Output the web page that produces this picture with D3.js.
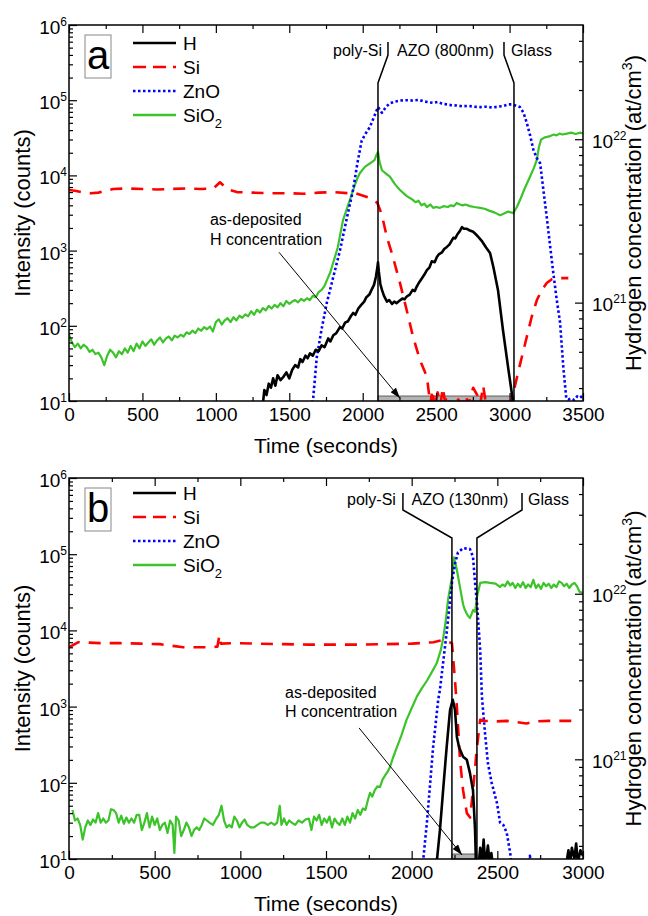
<!DOCTYPE html>
<html>
<head>
<meta charset="utf-8">
<script src="https://cdn.jsdelivr.net/npm/d3@7"></script>
<style>
  body { margin: 0; background: #fff; }
  svg { display: block; }
</style>
</head>
<body>
<div id="chart"></div>
<script>
// ---- data: [time (s), intensity (counts)] ----

// panel a: AZO 800 nm
const hA = [[1320,9],[1330,14],[1345,12],[1360,17],[1375,15],[1390,20],[1405,16],[1420,22],[1440,19],[1460,21],[1480,24],[1500,20],[1520,26],[1540,30],[1560,28],[1575,36],[1590,33],[1610,40],[1625,37],[1641,43],[1660,40],[1680,48],[1700,46],[1720,55],[1740,52],[1765,68],[1780,62],[1800,75],[1820,80],[1845,96],[1860,92],[1880,110],[1900,115],[1920,135],[1935,148],[1950,140],[1970,170],[1990,190],[2010,210],[2025,240],[2045,260],[2060,300],[2077,350],[2090,450],[2100,600],[2104,700],[2110,520],[2120,360],[2131,300],[2145,250],[2165,210],[2180,220],[2200,195],[2215,210],[2230,200],[2250,215],[2270,230],[2285,225],[2300,245],[2320,260],[2340,300],[2355,290],[2367,330],[2385,380],[2400,420],[2420,480],[2437,550],[2455,600],[2470,720],[2490,700],[2505,820],[2520,900],[2540,950],[2555,1050],[2573,1120],[2590,1200],[2605,1350],[2617,1480],[2630,1450],[2645,1650],[2660,1800],[2676,2050],[2690,1950],[2710,1950],[2730,1850],[2752,1780],[2770,1650],[2790,1500],[2810,1350],[2820,1260],[2840,1100],[2867,930],[2890,600],[2921,300],[2955,88],[2990,28],[3023,10],[3030,8]];

const siA = [[0,6400],[50,6200],[100,5900],[150,5800],[200,5900],[300,6600],[400,6700],[500,6600],[600,6500],[700,6600],[800,6700],[900,6600],[983,6700],[1028,8100],[1080,6500],[1143,6000],[1250,5900],[1350,5800],[1500,5800],[1600,5700],[1700,5900],[1800,6000],[1900,5800],[1950,5800],[2050,5000],[2100,4300],[2130,3000],[2165,1500],[2200,900],[2254,370],[2300,160],[2343,71],[2390,35],[2437,21],[2460,9],[2475,14],[2490,8],[2510,13],[2530,9],[2545,15],[2560,10],[2580,12],[2600,8],[2640,11],[2680,9],[2700,12],[2720,9],[2752,15],[2780,12],[2800,9],[2820,16],[2840,9],[2880,8],[3000,8],[3030,14],[3070,30],[3117,71],[3150,130],[3186,220],[3220,300],[3253,370],[3290,420],[3320,430],[3400,430]];

const znoA = [[1640,7],[1663,11],[1687,38],[1720,90],[1755,200],[1800,450],[1845,1000],[1890,2600],[1935,6500],[1965,15000],[1993,29000],[2020,36000],[2049,44000],[2080,62000],[2104,81000],[2131,68000],[2160,82000],[2185,91000],[2220,96000],[2260,99000],[2300,100000],[2340,99000],[2380,101000],[2420,96000],[2450,94000],[2480,92000],[2510,95000],[2540,90000],[2570,88000],[2600,86000],[2640,85000],[2680,83000],[2720,84000],[2760,82000],[2800,81000],[2840,82000],[2880,80000],[2920,82000],[2960,84000],[2990,88000],[3016,88000],[3040,85000],[3071,81000],[3095,68000],[3117,50000],[3140,34000],[3162,22000],[3185,17000],[3208,14500],[3230,6500],[3253,2800],[3275,1200],[3298,500],[3320,230],[3344,110],[3366,28],[3386,11],[3400,10.5],[3420,10.8],[3440,10.3],[3460,11.5],[3480,11],[3500,12]];

const sio2A = [[0,76],[20,60],[40,52],[60,58],[80,50],[100,56],[120,52],[140,45],[160,48],[180,42],[200,44],[220,38],[240,30],[260,40],[280,48],[300,44],[320,38],[340,46],[360,42],[380,50],[400,44],[420,54],[440,46],[460,58],[480,50],[500,62],[520,54],[540,60],[560,66],[580,56],[600,64],[620,70],[640,60],[660,68],[680,72],[700,64],[720,74],[740,70],[760,76],[780,72],[800,82],[820,78],[840,86],[860,80],[880,92],[900,86],[920,96],[940,90],[960,98],[980,84],[1000,112],[1020,122],[1040,104],[1060,118],[1080,126],[1100,112],[1120,130],[1140,118],[1160,136],[1180,128],[1200,142],[1220,134],[1240,156],[1260,140],[1280,164],[1300,150],[1320,172],[1340,160],[1360,184],[1380,170],[1400,190],[1420,176],[1440,200],[1460,182],[1480,214],[1500,196],[1520,210],[1540,220],[1560,205],[1580,228],[1600,215],[1620,232],[1640,220],[1660,250],[1680,240],[1700,280],[1720,300],[1740,340],[1760,420],[1780,520],[1800,700],[1830,1100],[1866,2550],[1900,4000],[1935,6400],[1960,8800],[1980,10700],[2015,13000],[2050,14500],[2080,16000],[2095,19000],[2104,20500],[2115,15000],[2131,11700],[2160,10500],[2185,9600],[2220,7600],[2254,6400],[2300,5300],[2343,4700],[2360,4400],[2380,4600],[2400,4000],[2420,4200],[2437,3800],[2460,4100],[2480,3700],[2500,3800],[2526,3700],[2550,3900],[2580,3800],[2600,4000],[2620,3900],[2640,4300],[2662,4100],[2680,4000],[2700,4100],[2730,3900],[2760,3800],[2799,3700],[2830,3600],[2860,3400],[2900,3200],[2935,2950],[2960,3100],[2990,3300],[3025,3150],[3050,3800],[3071,4700],[3100,6500],[3139,9600],[3165,12500],[3185,16000],[3200,24000],[3215,30000],[3240,32000],[3270,33000],[3300,35000],[3320,34000],[3340,36000],[3360,35000],[3390,36000],[3420,37000],[3450,35500],[3480,37000],[3500,36000]];

// panel b: AZO 130 nm
const hB = [[2146,9],[2165,24],[2185,88],[2204,290],[2224,900],[2240,1230],[2253,900],[2264,400],[2277,290],[2300,220],[2322,200],[2340,135],[2358,80],[2370,24],[2375,9],[2390,8],[2400,14],[2410,9],[2420,18],[2430,8],[2445,15],[2455,9],[2465,12],[2475,8],[2900,8],[2915,13],[2925,9],[2935,14],[2950,10],[2960,16],[2970,9],[2985,13],[3000,11]];

const siB = [[0,6000],[55,7000],[180,6800],[300,6800],[420,6700],[530,6600],[667,6000],[805,6000],[866,6100],[878,8600],[886,6700],[960,6800],[1100,6700],[1250,6600],[1400,6500],[1550,6500],[1700,6500],[1850,6600],[2000,6700],[2127,7000],[2185,7500],[2235,6800],[2253,2200],[2264,980],[2282,200],[2300,80],[2322,40],[2341,35],[2358,80],[2381,290],[2400,670],[2428,650],[2500,640],[2555,650],[2670,600],[2720,640],[2800,650],[2943,650]];

const znoB = [[2066,9],[2090,32],[2125,290],[2155,1230],[2165,1660],[2204,9300],[2235,42000],[2253,76000],[2270,105000],[2300,120000],[2340,117000],[2358,92000],[2370,42000],[2381,23000],[2400,5500],[2410,1350],[2428,450],[2445,180],[2467,100],[2498,54],[2516,30],[2535,28],[2555,22],[2575,12],[2585,8],[2680,8],[2690,11],[2700,8],[2900,8],[2920,11],[2940,9],[2960,11],[2980,8]];

const sio2B = [[20,44],[35,32],[50,34],[65,28],[80,18],[95,26],[110,32],[125,28],[140,33],[155,30],[170,40],[185,30],[200,34],[215,30],[230,32],[245,45],[260,44],[275,40],[290,30],[305,37],[320,29],[335,35],[350,30],[365,34],[380,30],[395,38],[410,38],[425,24],[440,30],[455,40],[470,26],[485,36],[500,28],[515,34],[530,24],[545,28],[560,30],[575,22],[590,32],[605,28],[615,12],[625,36],[640,32],[655,20],[670,24],[685,30],[700,26],[715,20],[730,24],[745,26],[760,24],[775,28],[790,34],[805,32],[820,30],[840,28],[860,34],[875,38],[890,50],[905,32],[920,26],[935,28],[950,26],[965,36],[980,32],[995,26],[1010,30],[1025,33],[1040,28],[1060,26],[1080,26],[1100,28],[1120,30],[1140,30],[1160,28],[1180,30],[1200,28],[1215,30],[1230,50],[1240,28],[1255,34],[1270,28],[1285,32],[1300,30],[1320,28],[1340,32],[1360,30],[1380,33],[1400,34],[1415,24],[1430,36],[1445,32],[1460,38],[1475,28],[1490,34],[1505,30],[1520,36],[1535,26],[1550,34],[1565,30],[1580,28],[1595,34],[1610,28],[1625,36],[1640,30],[1655,40],[1670,34],[1685,44],[1700,38],[1715,46],[1730,44],[1745,60],[1757,74],[1770,66],[1785,80],[1800,90],[1815,88],[1830,110],[1845,125],[1860,140],[1873,160],[1890,210],[1913,290],[1940,420],[1970,670],[2000,950],[2030,1350],[2060,1750],[2090,2200],[2120,2900],[2146,3700],[2170,5500],[2185,8100],[2200,14000],[2212,25000],[2235,50000],[2247,91000],[2264,62000],[2282,37000],[2300,22000],[2311,18500],[2325,16000],[2340,14500],[2350,16500],[2358,18500],[2370,17500],[2381,27500],[2400,42000],[2430,43000],[2457,42000],[2490,41000],[2516,37000],[2530,40000],[2545,38000],[2560,44000],[2575,39000],[2590,42000],[2605,36000],[2620,41000],[2635,37000],[2650,43000],[2665,36000],[2680,40000],[2695,37000],[2710,46000],[2725,36000],[2740,40000],[2755,35000],[2770,42000],[2785,38000],[2800,41000],[2815,36000],[2830,40000],[2845,37000],[2860,44000],[2875,42000],[2890,38000],[2905,41000],[2920,36000],[2935,40000],[2950,42000],[2965,38000],[2980,32000],[3000,31000]];

// ---- axes / labels ----
const xTicksA = [0, 500, 1000, 1500, 2000, 2500, 3000, 3500];
const xTicksB = [0, 500, 1000, 1500, 2000, 2500, 3000];
const yTicks = [1e1, 1e2, 1e3, 1e4, 1e5, 1e6];
const y2Ticks = [1e21, 1e22];
const legendNames = ["H", "Si", "ZnO", "SiO2"];
const layerNames = ["poly-Si", "Glass"];

const FONT = '"Liberation Sans", Arial, Helvetica, sans-serif';
const plotLeft = 69, plotW = 514;

const styles = {
  H:    { color: "#000000", width: 2.6, dash: null },
  Si:   { color: "#ff0000", width: 2.6, dash: "12,9" },
  ZnO:  { color: "#0000ff", width: 2.6, dash: "2.5,2.5" },
  SiO2: { color: "#3cc32a", width: 2.2, dash: null }
};

const svg = d3.select("#chart").append("svg")
  .attr("width", 648).attr("height", 916)
  .style("font-family", FONT);

const defs = svg.append("defs");
defs.append("marker")
  .attr("id", "arrow")
  .attr("viewBox", "0 0 12 8")
  .attr("refX", 12).attr("refY", 4)
  .attr("markerWidth", 12).attr("markerHeight", 7)
  .attr("markerUnits", "userSpaceOnUse")
  .attr("orient", "auto")
  .append("path").attr("d", "M0,0 L12,4 L0,8 z").attr("fill", "#000");

function styleAxis(sel) {
  sel.attr("font-family", FONT).attr("font-size", 19);
  sel.select(".domain").remove();
  sel.selectAll(".tick line").attr("stroke", "#000").attr("stroke-width", 1.2);
  sel.selectAll(".tick text").attr("fill", "#000");
}

function powerLabels(sel, dy) {
  sel.selectAll(".tick text").each(function(d) {
    const t = d3.select(this).attr("dy", dy).text("10");
    t.append("tspan").attr("dy", -8).attr("font-size", 12).text(Math.round(Math.log10(d)));
  });
}

function drawPanel(cfg) {
  const height = cfg.bottom - cfg.top;
  const g = svg.append("g").attr("transform", `translate(${plotLeft},${cfg.top})`);

  const x = d3.scaleLinear().domain([0, cfg.tMax]).range([0, plotW]);
  const y = d3.scaleLog().domain([1e1, 1e6]).range([height, 0]);
  const y2 = d3.scaleLog().domain([2.5e20, 5e22]).range([height, 0]);

  defs.append("clipPath").attr("id", "clip-" + cfg.id)
    .append("rect").attr("width", plotW).attr("height", height);

  // as-deposited H bar
  g.append("rect")
    .attr("x", x(cfg.bar[0]))
    .attr("width", x(cfg.bar[1]) - x(cfg.bar[0]))
    .attr("y", height - 5)
    .attr("height", 5)
    .attr("fill", "#b4b4b4")
    .attr("stroke", "#444")
    .attr("stroke-width", 0.8);

  // series
  const line = d3.line().x(d => x(d[0])).y(d => y(d[1]));
  const plot = g.append("g").attr("clip-path", `url(#clip-${cfg.id})`);
  ["SiO2", "ZnO", "Si", "H"].forEach(name => {
    const s = styles[name];
    plot.append("path")
      .datum(cfg.series[name])
      .attr("fill", "none")
      .attr("stroke", s.color)
      .attr("stroke-width", s.width)
      .attr("stroke-linejoin", "round")
      .attr("stroke-dasharray", s.dash)
      .attr("d", line);
  });

  // layer boundary brackets
  cfg.brackets.forEach(b => {
    const pts = [[x(b[0]), cfg.bracketY[0]], [x(b[0]), cfg.bracketY[1]],
                 [x(b[1]), cfg.bracketY[2]], [x(b[1]), height]];
    g.append("path")
      .attr("d", d3.line()(pts))
      .attr("fill", "none")
      .attr("stroke", "#000")
      .attr("stroke-width", 1.5);
  });

  // frame
  g.append("rect").attr("width", plotW).attr("height", height)
    .attr("fill", "none").attr("stroke", "#000").attr("stroke-width", 1.5);

  // axes
  const xMinor = d3.range(250, cfg.tMax, 500);
  g.append("g").attr("transform", `translate(0,${height})`)
    .call(d3.axisBottom(x).tickValues(cfg.xTicks).tickSize(-8).tickPadding(7).tickFormat(d3.format("d")))
    .call(styleAxis);
  g.append("g").attr("transform", `translate(0,${height})`)
    .call(d3.axisBottom(x).tickValues(xMinor).tickSize(-4).tickFormat(""))
    .call(styleAxis);
  g.append("g")
    .call(d3.axisTop(x).tickValues(cfg.xTicks).tickSize(-8).tickFormat(""))
    .call(styleAxis);
  g.append("g")
    .call(d3.axisTop(x).tickValues(xMinor).tickSize(-4).tickFormat(""))
    .call(styleAxis);

  const yMinor = [];
  for (let k = 1; k < 6; k++) for (let m = 2; m < 10; m++) yMinor.push(m * Math.pow(10, k));
  g.append("g")
    .call(d3.axisLeft(y).tickValues(yTicks).tickSize(-8).tickPadding(2))
    .call(styleAxis)
    .call(s => powerLabels(s, "0.45em"));
  g.append("g")
    .call(d3.axisLeft(y).tickValues(yMinor).tickSize(-4).tickFormat(""))
    .call(styleAxis);

  const y2Minor = [];
  for (let k = 20; k < 23; k++) for (let m = 2; m < 10; m++) {
    const v = m * Math.pow(10, k);
    if (v > 2.5e20 && v < 5e22) y2Minor.push(v);
  }
  g.append("g").attr("transform", `translate(${plotW},0)`)
    .call(d3.axisRight(y2).tickValues(y2Ticks).tickSize(-8).tickPadding(9))
    .call(styleAxis)
    .call(s => powerLabels(s, "0.42em"));
  g.append("g").attr("transform", `translate(${plotW},0)`)
    .call(d3.axisRight(y2).tickValues(y2Minor).tickSize(-4).tickFormat(""))
    .call(styleAxis);

  // axis titles
  g.append("text")
    .attr("transform", `translate(-39,${height / 2}) rotate(-90)`)
    .attr("text-anchor", "middle")
    .attr("font-size", 22)
    .text("Intensity (counts)");

  const h2 = g.append("text")
    .attr("transform", `translate(${plotW + 58},${height / 2}) rotate(-90)`)
    .attr("text-anchor", "middle")
    .attr("font-size", 22)
    .text("Hydrogen concentration (at/cm");
  h2.append("tspan").attr("dy", -9).attr("font-size", 14).text("3");
  h2.append("tspan").attr("dy", 9).text(")");

  g.append("text")
    .attr("x", plotW / 2)
    .attr("y", height + 52)
    .attr("text-anchor", "middle")
    .attr("font-size", 21)
    .text("Time (seconds)");

  // panel letter
  g.append("rect").attr("x", 16).attr("y", 10).attr("width", 26).attr("height", 43)
    .attr("fill", "none").attr("stroke", "#888").attr("stroke-width", 1);
  g.append("text").attr("x", 29).attr("y", 44).attr("text-anchor", "middle")
    .attr("font-size", 40).text(cfg.id);

  // legend
  legendNames.forEach((name, i) => {
    const s = styles[name];
    const ly = cfg.legendY + i * 24;
    g.append("line")
      .attr("x1", 64).attr("x2", 107).attr("y1", ly).attr("y2", ly)
      .attr("stroke", s.color).attr("stroke-width", 2.6)
      .attr("stroke-dasharray", name === "Si" ? "13,7" : s.dash);
    const t = g.append("text").attr("x", 114).attr("y", ly).attr("dy", "0.36em")
      .attr("font-size", 19);
    if (name === "SiO2") {
      t.text("SiO");
      t.append("tspan").attr("dy", 6).attr("font-size", 13).text("2");
    } else {
      t.text(name);
    }
  });

  // layer names
  g.append("text").attr("x", x(cfg.layerX[0])).attr("y", cfg.layerY)
    .attr("text-anchor", "end").attr("font-size", 16).text(layerNames[0]);
  g.append("text").attr("x", x(cfg.layerX[1])).attr("y", cfg.layerY)
    .attr("text-anchor", "middle").attr("font-size", 16).text(cfg.azo);
  g.append("text").attr("x", x(cfg.layerX[2])).attr("y", cfg.layerY)
    .attr("text-anchor", "start").attr("font-size", 16).text(layerNames[1]);

  // as-deposited annotation + arrow
  const note = g.append("text").attr("x", x(cfg.noteAt[0])).attr("y", y(cfg.noteAt[1]))
    .attr("font-size", 16);
  note.append("tspan").text("as-deposited");
  note.append("tspan").attr("x", x(cfg.noteAt[0])).attr("dy", cfg.noteGap).text("H concentration");

  g.append("line")
    .attr("x1", x(cfg.arrow[0][0])).attr("y1", y(cfg.arrow[0][1]))
    .attr("x2", x(cfg.arrow[1][0])).attr("y2", y(cfg.arrow[1][1]))
    .attr("stroke", "#000").attr("stroke-width", 1)
    .attr("marker-end", "url(#arrow)");
}

drawPanel({
  id: "a", top: 25, bottom: 401, tMax: 3500, xTicks: xTicksA,
  series: { H: hA, Si: siA, ZnO: znoA, SiO2: sio2A },
  bar: [2104, 3030],
  brackets: [[2172, 2104], [2962, 3030]],
  bracketY: [17, 30, 58],
  layerX: [2131, 2564, 3010], layerY: 31, azo: "AZO (800nm)",
  noteAt: [960, 2190], noteGap: 20,
  arrow: [[1430, 950], [2254, 10.9]],
  legendY: 18
});

drawPanel({
  id: "b", top: 478, bottom: 859, tMax: 3000, xTicks: xTicksB,
  series: { H: hB, Si: siB, ZnO: znoB, SiO2: sio2B },
  bar: [2235, 2381],
  brackets: [[1949, 2235], [2644, 2381]],
  bracketY: [15, 32, 60],
  layerX: [1908, 2282, 2679], layerY: 27, azo: "AZO (130nm)",
  noteAt: [1261, 1300], noteGap: 19,
  arrow: [[1693, 525], [2294, 11.3]],
  legendY: 15
});
</script>
</body>
</html>
